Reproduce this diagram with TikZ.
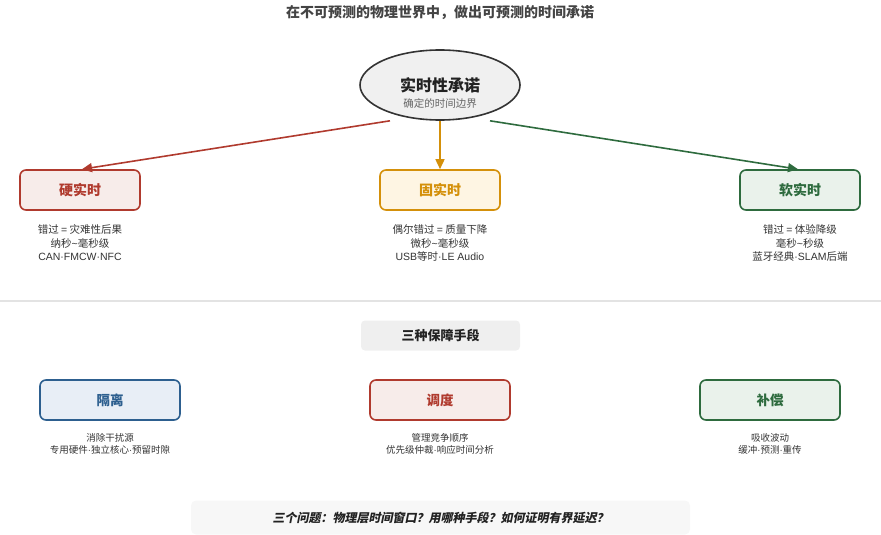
\documentclass[tikz,border=0pt]{standalone}
\usepackage{fontspec}
\setmainfont{Noto Sans CJK SC}
\newfontfamily\lat{Liberation Sans}
\newfontfamily\slantcjk[FakeSlant=0.2]{Noto Sans CJK SC}
\usetikzlibrary{arrows.meta,shapes.geometric,calc}
\definecolor{hardS}{HTML}{B03A2E}
\definecolor{hardF}{HTML}{F7ECEA}
\definecolor{firmS}{HTML}{D4900A}
\definecolor{firmF}{HTML}{FEF5E3}
\definecolor{softS}{HTML}{2E6B3E}
\definecolor{softF}{HTML}{EAF2EB}
\definecolor{isoS}{HTML}{2D5F8F}
\definecolor{isoF}{HTML}{E8EEF6}
\definecolor{txt}{HTML}{333333}
\definecolor{titleC}{HTML}{444444}
\definecolor{rootS}{HTML}{333333}
\definecolor{rootF}{HTML}{F0F0F0}
\definecolor{dark}{HTML}{222222}
\definecolor{subC}{HTML}{666666}
\definecolor{sepC}{HTML}{E3E3E3}
\definecolor{meansF}{HTML}{EFEFEF}
\definecolor{qF}{HTML}{F7F7F7}
\newcommand{\md}{{\lat ·}}
\tikzset{
  cls/.style={draw, line width=1.6pt, rounded corners=6pt, minimum width=120pt, minimum height=40pt, inner sep=0pt, font=\fontsize{14}{16}\selectfont\bfseries},
  mech/.style={draw, line width=1.6pt, rounded corners=6pt, minimum width=140pt, minimum height=40pt, inner sep=0pt, font=\fontsize{13.5}{16}\selectfont\bfseries},
  desc/.style={align=center, text=txt, font=\fontsize{10.5}{13.5}\selectfont, inner sep=0pt},
  desc2/.style={align=center, text=txt, font=\fontsize{9.5}{12}\selectfont, inner sep=0pt},
  arr/.style={line width=1.6pt, -{Triangle[length=10pt,width=9pt]}},
}
\begin{document}
\begin{tikzpicture}[x=1pt,y=-1pt]
\useasboundingbox (0,0) rectangle (881,535);
\node[font=\fontsize{14}{16}\selectfont\bfseries, text=titleC] (title) at (440,13) {在不可预测的物理世界中，做出可预测的时间承诺};
\node[ellipse, draw=rootS, fill=rootF, line width=1.6pt, minimum width=160pt, minimum height=70pt, inner sep=0pt] (root) at (440,85) {};
\node[font=\fontsize{16}{18}\selectfont\bfseries, text=dark] (rootT) at (440,85) {实时性承诺};
\node[font=\fontsize{10.5}{12}\selectfont, text=subC] (rootSub) at (440,104) {确定的时间边界};

\node[cls, draw=hardS, fill=hardF, text=hardS] (hard) at (80,190) {硬实时};
\node[cls, draw=firmS, fill=firmF, text=firmS] (firm) at (440,190) {固实时};
\node[cls, draw=softS, fill=softF, text=softS] (soft) at (800,190) {软实时};

\draw[arr, hardS] ($(root.south)+(-50,0)$) -- ($(hard.north)+(2,0)$);
\draw[arr, firmS] (root.south) -- (firm.north);
\draw[arr, softS] ($(root.south)+(50,0)$) -- ($(soft.north)+(-2,0)$);

\node[desc] (hardD) at (80,243) {错过 {\lat =} 灾难性后果\\纳秒{\lat\textasciitilde}毫秒级\\{\lat CAN·FMCW·NFC}};
\node[desc] (firmD) at (440,243) {偶尔错过 {\lat =} 质量下降\\微秒{\lat\textasciitilde}毫秒级\\{\lat USB}等时{\lat ·LE Audio}};
\node[desc] (softD) at (800,243) {错过 {\lat =} 体验降级\\毫秒{\lat\textasciitilde}秒级\\蓝牙经典{\lat ·SLAM}后端};

\draw[line width=1.5pt, sepC] (0,301) -- (881,301);

\node[fill=meansF, rounded corners=4pt, minimum width=159pt, minimum height=30pt, font=\fontsize{13}{15}\selectfont\bfseries, text=dark] (means) at (440.5,335.5) {三种保障手段};

\node[mech, draw=isoS, fill=isoF, text=isoS] (iso) at (110,400) {隔离};
\node[mech, draw=hardS, fill=hardF, text=hardS] (sch) at (440,400) {调度};
\node[mech, draw=softS, fill=softF, text=softS] (comp) at (770,400) {补偿};

\node[desc2] (isoD) at (110,444) {消除干扰源\\专用硬件\md 独立核心\md 预留时隙};
\node[desc2] (schD) at (440,444) {管理竞争顺序\\优先级仲裁\md 响应时间分析};
\node[desc2] (compD) at (770,444) {吸收波动\\缓冲\md 预测\md 重传};

\node[fill=qF, rounded corners=5pt, minimum width=499pt, minimum height=34pt, font=\fontsize{12}{14}\selectfont\slantcjk\bfseries, text=dark] (q) at (440.5,517.5) {三个问题：物理层时间窗口？用哪种手段？如何证明有界延迟？};
\end{tikzpicture}
\end{document}
